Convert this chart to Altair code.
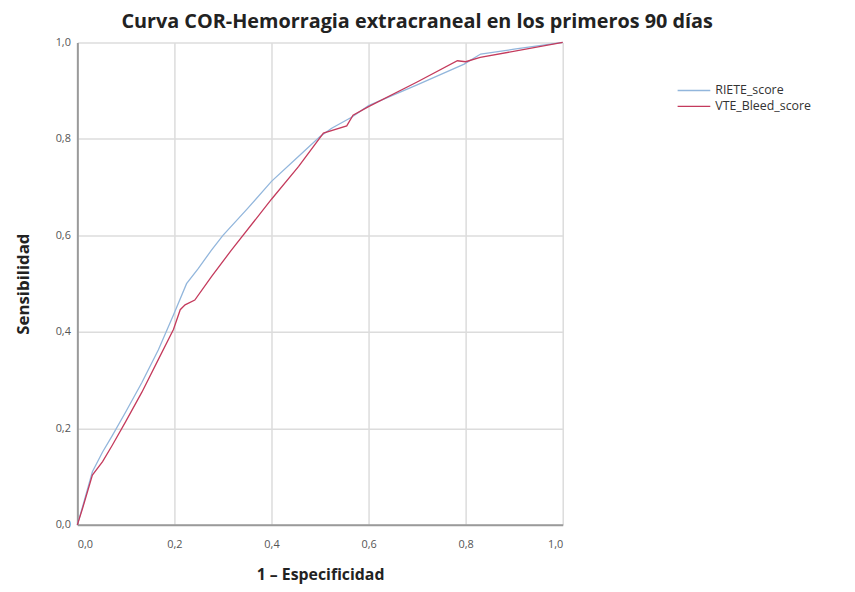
import altair as alt
import pandas as pd

series_names = ["RIETE_score", "VTE_Bleed_score"]

riete_x = [0.0, 0.014, 0.031, 0.052, 0.072, 0.099, 0.133, 0.167, 0.198, 0.225, 0.249, 0.276,
           0.30, 0.35, 0.40, 0.456, 0.50, 0.524, 0.565, 0.60, 0.70, 0.797, 0.831, 0.90, 1.0]
riete_y = [0.0, 0.049, 0.110, 0.151, 0.185, 0.233, 0.295, 0.363, 0.435, 0.500, 0.531, 0.569,
           0.600, 0.655, 0.712, 0.764, 0.805, 0.822, 0.845, 0.869, 0.912, 0.955, 0.976, 0.986, 1.0]

vte_x = [0.0, 0.011, 0.031, 0.052, 0.072, 0.099, 0.133, 0.167, 0.198, 0.212, 0.222, 0.242,
         0.276, 0.317, 0.40, 0.456, 0.507, 0.555, 0.568, 0.60, 0.70, 0.783, 0.80, 0.83, 1.0]
vte_y = [0.0, 0.035, 0.103, 0.131, 0.165, 0.213, 0.275, 0.343, 0.405, 0.446, 0.456, 0.466,
         0.514, 0.569, 0.675, 0.743, 0.812, 0.827, 0.849, 0.867, 0.918, 0.962, 0.960, 0.969, 1.0]

tick_values = [0.0, 0.2, 0.4, 0.6, 0.8, 1.0]

rows = []
for i, (x, y) in enumerate(zip(riete_x, riete_y)):
    rows.append({"serie": series_names[0], "x": x, "y": y, "o": i})
for i, (x, y) in enumerate(zip(vte_x, vte_y)):
    rows.append({"serie": series_names[1], "x": x, "y": y, "o": i})
df = pd.DataFrame(rows)

FONT = "Open Sans"
label_expr = "replace(format(datum.value, '.1f'), '.', ',')"

chart = alt.Chart(df).mark_line(strokeWidth=1.3).encode(
    x=alt.X("x:Q", scale=alt.Scale(domain=[0, 1], nice=False),
            axis=alt.Axis(values=tick_values, labelExpr=label_expr, title="1 – Especificidad",
                          labelPadding=14, titlePadding=17)),
    y=alt.Y("y:Q", scale=alt.Scale(domain=[0, 1], nice=False),
            axis=alt.Axis(values=tick_values, labelExpr=label_expr, title="Sensibilidad",
                          labelPadding=7, titlePadding=23, titleFontSize=17)),
    color=alt.Color("serie:N", scale=alt.Scale(domain=series_names, range=["#92b6dc", "#c43a5c"]),
                    legend=alt.Legend(title=None, orient="none", legendX=616, legendY=42,
                                      symbolType="M-3,0H3", symbolSize=121, symbolStrokeWidth=1.3,
                                      rowPadding=3, labelOffset=15, labelFontSize=12.5,
                                      padding=0, labelColor="#333", labelFont=FONT)),
    order="o:Q",
).properties(
    width=490,
    height=487,
    title=alt.TitleParams("Curva COR-Hemorragia extracraneal en los primeros 90 días",
                          fontSize=20, font=FONT, fontWeight="bold", color="#222",
                          anchor="middle", dx=98, offset=5),
    autosize=alt.AutoSizeParams(type="none"),
    padding={"left": 70, "top": 32, "right": 287, "bottom": 62},
).configure_view(
    stroke=None
).configure_axis(
    domainColor="#9a9a9a", domainWidth=2, ticks=False, gridColor="#dcdcdc", gridWidth=1.5,
    labelColor="#555", labelFontSize=11, labelFont=FONT,
    titleColor="#222", titleFont=FONT, titleFontSize=16, titleFontWeight="bold",
)

chart.save("out.html", embed_options={"renderer": "svg", "actions": False})
